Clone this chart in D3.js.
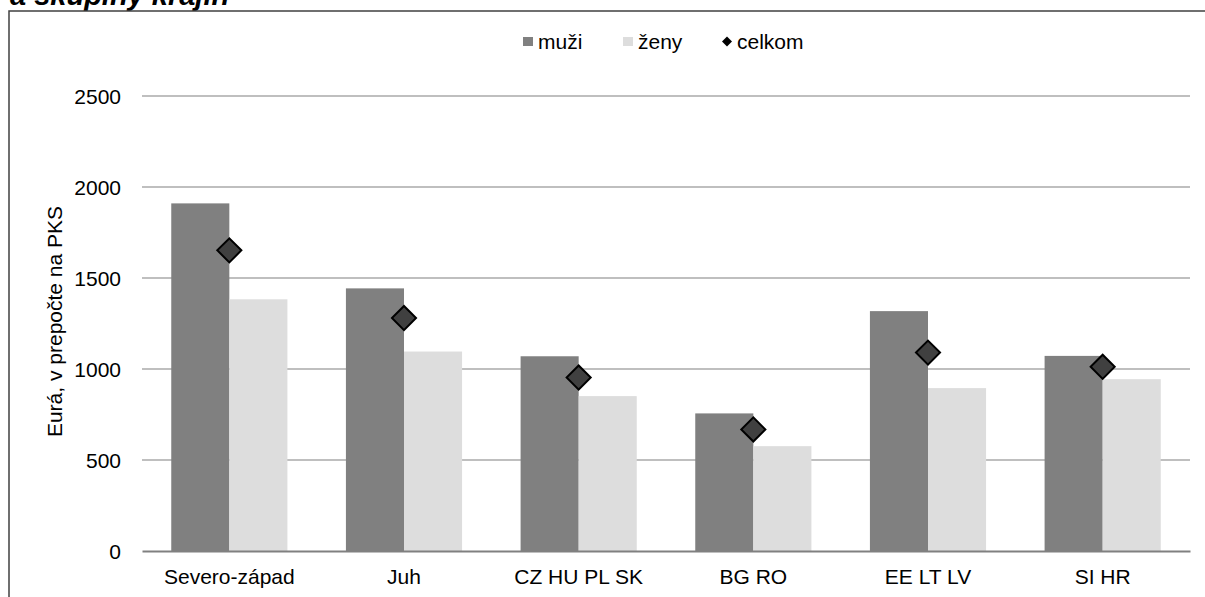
<!DOCTYPE html>
<html>
<head>
<meta charset="utf-8">
<script src="https://cdn.jsdelivr.net/npm/d3@7"></script>
<style>
  html, body { margin: 0; padding: 0; background: #fff; }
  svg { display: block; font-family: "Liberation Sans", Arial, sans-serif; }
</style>
</head>
<body>
<svg id="chart" width="1205" height="597"></svg>
<script>
// Regions / country groups
const categories = ["Severo-západ", "Juh", "CZ HU PL SK", "BG RO", "EE LT LV", "SI HR"];
// Monthly earnings, EUR in PPS
const menValues   = [1910, 1443, 1070, 756, 1318, 1072];
const womenValues = [1383, 1096, 851, 576, 895, 944];
const totalValues = [1652, 1280, 953, 668, 1090, 1012];
const yTicks = [0, 500, 1000, 1500, 2000, 2500];

const svg = d3.select("#chart");
const W = 1205, H = 597;
const margin = { left: 142, right: 15, top: 96, bottom: 46 };
const plotRight = W - margin.right;
const plotBottom = H - margin.bottom;
const FS = 21;

// Heading fragment above the frame
svg.append("text")
  .attr("x", 10).attr("y", 5)
  .attr("font-size", 29).attr("font-weight", "bold").attr("font-style", "italic")
  .attr("fill", "#000")
  .text("a skupiny krajín");

// Chart frame
svg.append("rect")
  .attr("x", 9).attr("y", 11)
  .attr("width", W + 10).attr("height", H)
  .attr("fill", "none").attr("stroke", "#404040").attr("stroke-width", 1.5);

const x = d3.scaleBand().domain(categories).range([margin.left, plotRight]).paddingInner(0.335).paddingOuter(0.1675);
const y = d3.scaleLinear().domain([0, 2500]).range([plotBottom, margin.top]);

// Gridlines
svg.append("g").selectAll("line").data(yTicks.filter(d => d > 0)).join("line")
  .attr("x1", margin.left).attr("x2", plotRight)
  .attr("y1", d => y(d)).attr("y2", d => y(d))
  .attr("stroke", "#bfbfbf").attr("stroke-width", 2);

// Y axis labels
const yAxis = d3.axisLeft(y).tickValues(yTicks).tickSize(0).tickPadding(0).tickFormat(d3.format("d"));
const gy = svg.append("g").attr("transform", `translate(${margin.left - 21},0)`).call(yAxis);
gy.select(".domain").remove();
gy.selectAll("text").attr("font-size", FS).attr("fill", "#000").attr("font-family", "Liberation Sans, Arial, sans-serif").attr("dy", "0.35em");

// Y axis title
svg.append("text")
  .attr("transform", `translate(62, ${(margin.top + plotBottom) / 2 - 2}) rotate(-90)`)
  .attr("text-anchor", "middle")
  .attr("font-size", FS).attr("fill", "#000")
  .text("Eurá, v prepočte na PKS");

// Bars
const bw = x.bandwidth() / 2;
svg.append("g").selectAll("rect").data(categories).join("rect")
  .attr("x", d => x(d)).attr("width", bw)
  .attr("y", (d, i) => y(menValues[i])).attr("height", (d, i) => y(0) - y(menValues[i]))
  .attr("fill", "#808080");
svg.append("g").selectAll("rect").data(categories).join("rect")
  .attr("x", d => x(d) + bw).attr("width", bw)
  .attr("y", (d, i) => y(womenValues[i])).attr("height", (d, i) => y(0) - y(womenValues[i]))
  .attr("fill", "#dddddd");

// Baseline axis
const xAxis = d3.axisBottom(x).tickSize(0).tickPadding(18);
const gx = svg.append("g").attr("transform", `translate(0,${plotBottom})`).call(xAxis);
gx.select(".domain").attr("stroke", "#808080").attr("stroke-width", 2);
gx.selectAll("text").attr("font-size", FS).attr("fill", "#000").attr("font-family", "Liberation Sans, Arial, sans-serif");

// Total markers
svg.append("g").selectAll("path").data(categories).join("path")
  .attr("transform", (d, i) => `translate(${x(d) + bw},${y(totalValues[i])}) rotate(45)`)
  .attr("d", d3.symbol().type(d3.symbolSquare).size(290)())
  .attr("fill", "#404040").attr("stroke", "#000").attr("stroke-width", 2);

// Legend
const lg = svg.append("g").attr("font-size", FS);
lg.append("rect").attr("x", 523).attr("y", 37).attr("width", 10).attr("height", 9).attr("fill", "#808080");
lg.append("text").attr("x", 538).attr("y", 49).text("muži");
lg.append("rect").attr("x", 623).attr("y", 37).attr("width", 10).attr("height", 9).attr("fill", "#dddddd");
lg.append("text").attr("x", 638).attr("y", 49).text("ženy");
lg.append("path")
  .attr("transform", "translate(727,41.5) rotate(45)")
  .attr("d", d3.symbol().type(d3.symbolSquare).size(50)())
  .attr("fill", "#000");
lg.append("text").attr("x", 737).attr("y", 49).text("celkom");
</script>
</body>
</html>
